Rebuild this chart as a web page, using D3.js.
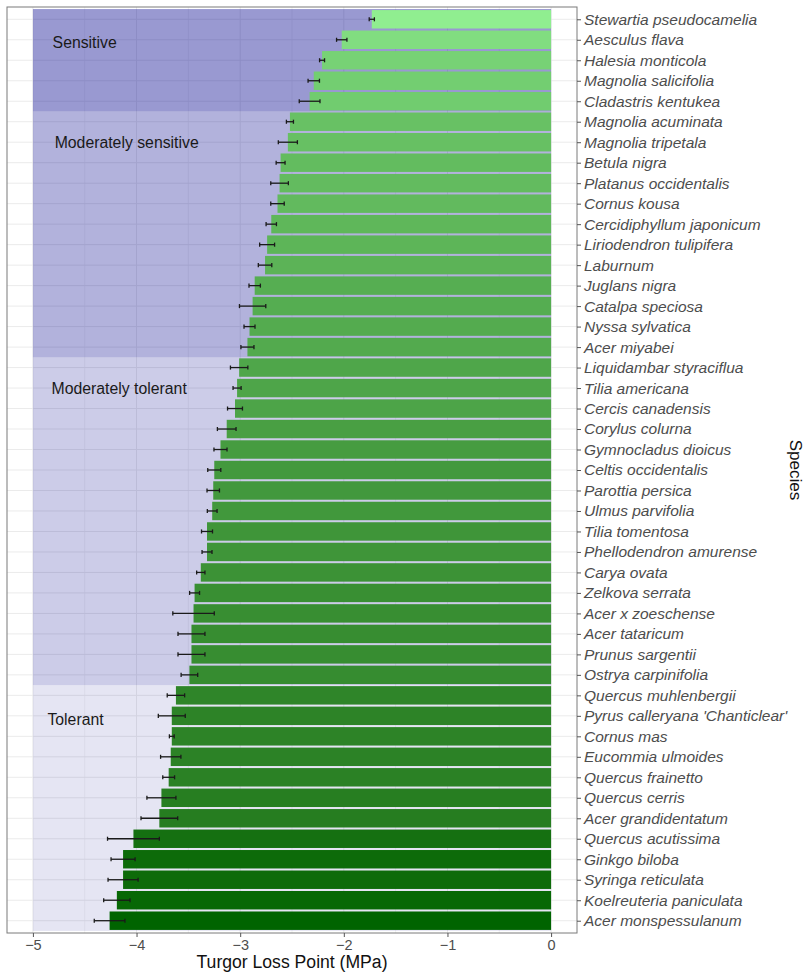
<!DOCTYPE html>
<html>
<head>
<meta charset="utf-8">
<script src="https://cdn.jsdelivr.net/npm/d3@7"></script>
<style>
  html, body { margin: 0; padding: 0; background: #fff; }
  svg { display: block; font-family: "Liberation Sans", Arial, Helvetica, sans-serif; }
</style>
</head>
<body>
<svg id="chart" width="808" height="974"></svg>
<script>
// Species ordered from least to most negative turgor loss point
const species = [
  "Stewartia pseudocamelia", "Aesculus flava", "Halesia monticola", "Magnolia salicifolia",
  "Cladastris kentukea", "Magnolia acuminata", "Magnolia tripetala", "Betula nigra",
  "Platanus occidentalis", "Cornus kousa", "Cercidiphyllum japonicum", "Liriodendron tulipifera",
  "Laburnum", "Juglans nigra", "Catalpa speciosa", "Nyssa sylvatica", "Acer miyabei",
  "Liquidambar styraciflua", "Tilia americana", "Cercis canadensis", "Corylus colurna",
  "Gymnocladus dioicus", "Celtis occidentalis", "Parottia persica", "Ulmus parvifolia",
  "Tilia tomentosa", "Phellodendron amurense", "Carya ovata", "Zelkova serrata",
  "Acer x zoeschense", "Acer tataricum", "Prunus sargentii", "Ostrya carpinifolia",
  "Quercus muhlenbergii", "Pyrus calleryana 'Chanticlear'", "Cornus mas", "Eucommia ulmoides",
  "Quercus frainetto", "Quercus cerris", "Acer grandidentatum", "Quercus acutissima",
  "Ginkgo biloba", "Syringa reticulata", "Koelreuteria paniculata", "Acer monspessulanum"
];

// Mean turgor loss point (MPa)
const tlp = [
  -1.73, -2.02, -2.21, -2.29, -2.33, -2.52, -2.54, -2.61, -2.62, -2.64,
  -2.70, -2.74, -2.76, -2.86, -2.88, -2.91, -2.93, -3.01, -3.03, -3.05,
  -3.13, -3.19, -3.25, -3.26, -3.27, -3.32, -3.32, -3.38, -3.44, -3.45,
  -3.47, -3.47, -3.49, -3.62, -3.66, -3.66, -3.67, -3.69, -3.76, -3.78,
  -4.03, -4.13, -4.13, -4.19, -4.26
];

// Standard error of the mean (MPa)
const se = [
  0.025, 0.050, 0.024, 0.055, 0.100, 0.034, 0.092, 0.043, 0.085, 0.065,
  0.050, 0.072, 0.065, 0.055, 0.127, 0.053, 0.063, 0.084, 0.039, 0.072,
  0.090, 0.063, 0.063, 0.060, 0.047, 0.053, 0.048, 0.040, 0.048, 0.200,
  0.130, 0.130, 0.080, 0.084, 0.130, 0.023, 0.098, 0.057, 0.140, 0.177,
  0.250, 0.116, 0.145, 0.127, 0.148
];

// Drought tolerance classes: name and number of consecutive species in each
const classNames = ["Sensitive", "Moderately sensitive", "Moderately tolerant", "Tolerant"];
const classCounts = [5, 12, 16, 12];

const xTicks = [-5, -4, -3, -2, -1, 0];
const xMinorTicks = [-4.5, -3.5, -2.5, -1.5, -0.5];

// ---- layout ----
const panel = { left: 7, right: 577, top: 7, bottom: 933 };
const svg = d3.select("#chart");

const x = d3.scaleLinear().domain([-5.25, 0.25]).range([panel.left, panel.right]);
const y = d3.scalePoint().domain(species).range([panel.top, panel.bottom]).padding(0.6);
const step = y.step();
const barH = step * 0.9;

const fill = d3.scaleLinear()
  .domain([d3.min(tlp), d3.max(tlp)])
  .range(["#006400", "#90ee90"])
  .interpolate(d3.interpolateLab);

const data = species.map((s, i) => ({ s, v: tlp[i], e: se[i] }));

// panel background
svg.append("rect")
  .attr("x", panel.left).attr("y", panel.top)
  .attr("width", panel.right - panel.left).attr("height", panel.bottom - panel.top)
  .attr("fill", "#fff");

// grid
const grid = svg.append("g");
grid.selectAll("line.h").data(species).join("line")
  .attr("x1", panel.left).attr("x2", panel.right)
  .attr("y1", d => y(d)).attr("y2", d => y(d))
  .attr("stroke", "#ebebeb").attr("stroke-width", 1);
grid.selectAll("line.vmaj").data(xTicks).join("line")
  .attr("x1", d => x(d)).attr("x2", d => x(d))
  .attr("y1", panel.top).attr("y2", panel.bottom)
  .attr("stroke", "#ebebeb").attr("stroke-width", 1);
grid.selectAll("line.vmin").data(xMinorTicks).join("line")
  .attr("x1", d => x(d)).attr("x2", d => x(d))
  .attr("y1", panel.top).attr("y2", panel.bottom)
  .attr("stroke", "#ebebeb").attr("stroke-width", 0.6);

// class bands (translucent dark blue, fading with tolerance)
const classAlpha = [0.4, 0.3, 0.2, 0.1];
let start = 0;
const bands = classNames.map((name, k) => {
  const first = species[start];
  const last = species[start + classCounts[k] - 1];
  start += classCounts[k];
  return { name, first, last, alpha: classAlpha[k] };
});
svg.append("g").selectAll("rect").data(bands).join("rect")
  .attr("x", x(-5))
  .attr("width", x(0) - x(-5))
  .attr("y", d => y(d.first) - step / 2)
  .attr("height", d => y(d.last) - y(d.first) + step)
  .attr("fill", "#00008b")
  .attr("fill-opacity", d => d.alpha);

// bars
svg.append("g").selectAll("rect").data(data).join("rect")
  .attr("x", d => x(d.v))
  .attr("width", d => x(0) - x(d.v))
  .attr("y", d => y(d.s) - barH / 2)
  .attr("height", barH)
  .attr("fill", d => fill(d.v));

// error bars
const eb = svg.append("g").attr("stroke", "#1a1a1a").attr("stroke-width", 1.3);
const capH = step * 0.2;
eb.selectAll("line.w").data(data).join("line")
  .attr("x1", d => x(d.v - d.e)).attr("x2", d => x(d.v + d.e))
  .attr("y1", d => y(d.s)).attr("y2", d => y(d.s));
eb.selectAll("line.l").data(data).join("line")
  .attr("x1", d => x(d.v - d.e)).attr("x2", d => x(d.v - d.e))
  .attr("y1", d => y(d.s) - capH / 2).attr("y2", d => y(d.s) + capH / 2);
eb.selectAll("line.r").data(data).join("line")
  .attr("x1", d => x(d.v + d.e)).attr("x2", d => x(d.v + d.e))
  .attr("y1", d => y(d.s) - capH / 2).attr("y2", d => y(d.s) + capH / 2);

// class labels
const labelX = [-4.81, -4.79, -4.82, -4.86];
const labelRow = [1.13, 6.03, 18.04, 34.2];
svg.append("g").selectAll("text").data(bands).join("text")
  .attr("x", (d, i) => x(labelX[i]))
  .attr("y", (d, i) => y(species[0]) + labelRow[i] * step)
  .attr("dy", "0.35em")
  .attr("font-size", 15.8)
  .attr("fill", "#1a1a1a")
  .text(d => d.name);

// panel border
svg.append("rect")
  .attr("x", panel.left).attr("y", panel.top)
  .attr("width", panel.right - panel.left).attr("height", panel.bottom - panel.top)
  .attr("fill", "none").attr("stroke", "#7a7a7a").attr("stroke-width", 1);

// x axis
const xAxis = svg.append("g")
  .attr("transform", `translate(0,${panel.bottom})`)
  .call(d3.axisBottom(x).tickValues(xTicks).tickFormat(d3.format("d")).tickSize(4).tickPadding(3));
xAxis.select(".domain").remove();
xAxis.selectAll(".tick line").attr("stroke", "#555");
xAxis.selectAll(".tick text").attr("font-size", 14.5).attr("fill", "#4d4d4d")
  .attr("font-family", "Liberation Sans, Arial, sans-serif");

// y axis on the right
const yAxis = svg.append("g")
  .attr("transform", `translate(${panel.right},0)`)
  .call(d3.axisRight(y).tickSize(4).tickPadding(3));
yAxis.select(".domain").remove();
yAxis.selectAll(".tick line").attr("stroke", "#555");
yAxis.selectAll(".tick text").attr("font-size", 15.5).attr("fill", "#4d4d4d")
  .attr("font-style", "italic")
  .attr("font-family", "Liberation Sans, Arial, sans-serif");

// axis titles
svg.append("text")
  .attr("x", (panel.left + panel.right) / 2).attr("y", 968)
  .attr("text-anchor", "middle").attr("font-size", 17.6).attr("fill", "#111")
  .text("Turgor Loss Point (MPa)");
svg.append("text")
  .attr("transform", `translate(790,${(panel.top + panel.bottom) / 2}) rotate(90)`)
  .attr("text-anchor", "middle").attr("font-size", 17).attr("fill", "#111")
  .text("Species");
</script>
</body>
</html>
